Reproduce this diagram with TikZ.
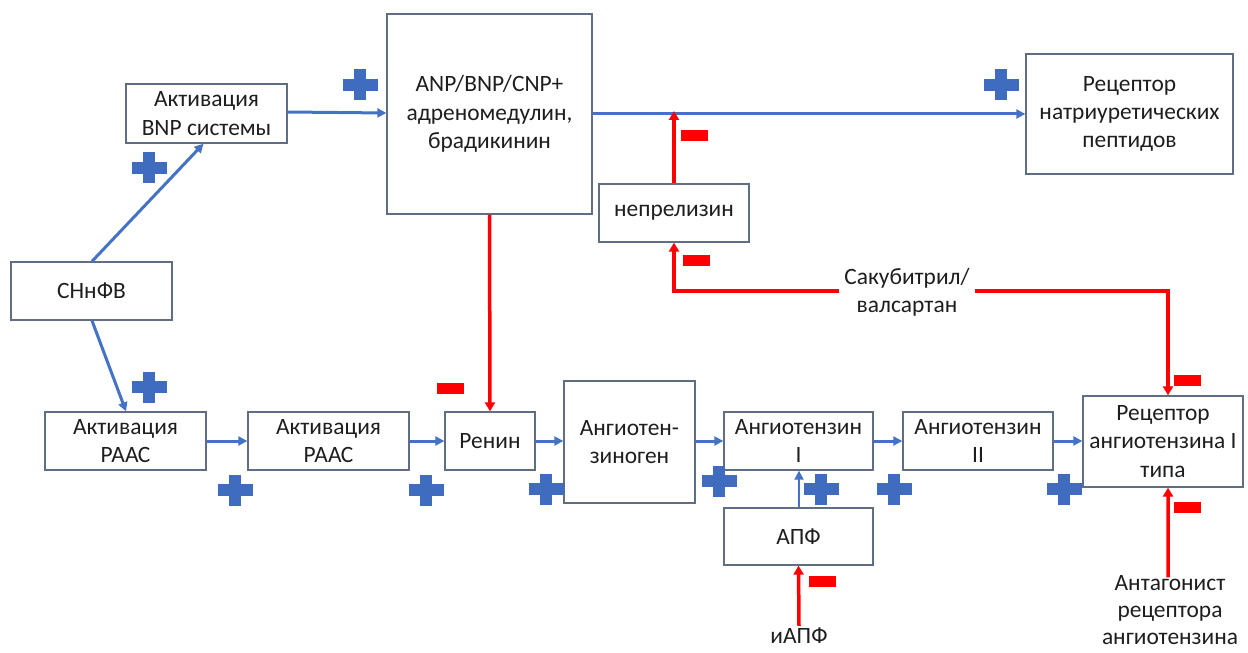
\documentclass[tikz,border=0pt]{standalone}
\usepackage{fontspec}
\setmainfont{Carlito}
\usetikzlibrary{arrows.meta,calc}
\definecolor{bl}{RGB}{68,114,196}
\definecolor{pl}{RGB}{63,108,190}
\definecolor{bx}{RGB}{95,110,130}
\definecolor{rd}{RGB}{255,0,0}
\definecolor{tx}{RGB}{30,30,30}
\begin{document}
\begin{tikzpicture}[x=1bp,y=-1bp,
  box/.style={draw=bx, line width=1.3bp, inner sep=0pt, align=center, text=tx,
    font=\fontsize{23.5}{28.5}\selectfont},
  txt/.style={inner sep=5bp, align=center, text=tx, font=\fontsize{23.5}{28.5}\selectfont},
  posarr/.style={draw=bl, line width=3bp, -{Triangle[length=9bp,width=9bp]}},
  negarr/.style={draw=rd, line width=3.5bp, -{Triangle[length=9bp,width=10bp]}},
  pplus/.pic={\fill[pl] (-17.5,-6) rectangle (17.5,6); \fill[pl] (-6,-15.5) rectangle (6,15.5);},
  pminus/.pic={\fill[rd] (-13.5,-5.5) rectangle (13.5,5.5);}
]
\useasboundingbox (0,0) rectangle (1248,653);

% boxes
\node[box, minimum width=161bp, minimum height=59bp] (bnp) at (206.5,113.5) {Активация\\BNP системы};
\node[box, minimum width=161bp, minimum height=58bp] (chf) at (91.5,291) {СНнФВ};
\node[box, minimum width=205bp, minimum height=200bp] (anp) at (489.5,114) {ANP/BNP/CNP+\\адреномедулин,\\брадикинин};
\node[box, minimum width=150bp, minimum height=58bp] (nep) at (674,213) {непрелизин};
\node[box, minimum width=207bp, minimum height=120bp] (rnp) at (1129.5,114) {Рецептор\\натриуретических\\пептидов};
\node[box, minimum width=161bp, minimum height=58bp] (raasa) at (125.5,441) {Активация\\РААС};
\node[box, minimum width=161bp, minimum height=58bp] (raasb) at (328.5,441) {Активация\\РААС};
\node[box, minimum width=90bp, minimum height=58bp] (ren) at (490,441) {Ренин};
\node[box, minimum width=131bp, minimum height=122bp] (agt) at (629.5,442) {Ангиотен-\\зиноген};
\node[box, minimum width=149bp, minimum height=58bp] (angi) at (798.5,441) {Ангиотензин\\I};
\node[box, minimum width=149bp, minimum height=57bp] (apf) at (798.5,536.5) {АПФ};
\node[box, minimum width=150bp, minimum height=58bp] (angii) at (978,441) {Ангиотензин\\II};
\node[box, minimum width=160bp, minimum height=91bp] (atr) at (1163,441.5) {Рецептор\\ангиотензина I\\типа};

% free texts
\node[txt] (sac) at (907,292) {Сакубитрил/\\валсартан};
\node[txt, inner sep=2bp] (iapf) at (799,636) {иАПФ};
\node[txt, inner sep=1bp, font=\fontsize{23.5}{27}\selectfont] (ant) at (1170,610) {Антагонист\\рецептора\\ангиотензина};

% blue connectors
\draw[posarr] ([xshift=0.5bp]chf.north) -- ([xshift=-3bp]bnp.south);
\draw[posarr] ([xshift=0.5bp]chf.south) -- ([xshift=0.5bp]raasa.north);
\draw[posarr] ([yshift=1.5bp]bnp.east) -- ([yshift=1bp]anp.west);
\draw[posarr] (anp.east) -- (rnp.west);
\draw[posarr] (raasa.east) -- (raasb.west);
\draw[posarr] (raasb.east) -- (ren.west);
\draw[posarr] (ren.east) -- (ren.east -| agt.west);
\draw[posarr] (angi.west -| agt.east) -- (angi.west);
\draw[posarr] (angi.east) -- (angii.west);
\draw[posarr] (angii.east) -- (angii.east -| atr.west);
\draw[posarr, line width=2bp] ([xshift=0.5bp]apf.north) -- ([xshift=0.5bp]angi.south);

% red connectors
\draw[negarr] (anp.south) -- (ren.north);
\draw[negarr] (nep.north) -- ([yshift=3bp]nep.north |- anp.east);
\draw[negarr] (sac.west |- 0,291) -| (nep.south);
\draw[negarr] (sac.east |- 0,291) -| ([xshift=5bp]atr.north);
\draw[negarr] (iapf.north) -- (apf.south);
\draw[negarr] ([xshift=-2bp,yshift=-3bp]ant.north) -- ([xshift=5bp]atr.south);

% plus signs
\pic at (360,85) {pplus};
\pic at (149,168) {pplus};
\pic at (1001,85) {pplus};
\pic at (149,387) {pplus};
\pic at (235,490) {pplus};
\pic at (426,490) {pplus};
\pic at (546,489) {pplus};
\pic at (719,481) {pplus};
\pic at (821,489) {pplus};
\pic at (894,489) {pplus};
\pic at (1064,489) {pplus};

% minus signs
\pic at (694,136) {pminus};
\pic at (696,260) {pminus};
\pic at (450,388) {pminus};
\pic at (822,581) {pminus};
\pic at (1187,380) {pminus};
\pic at (1187,507) {pminus};
\end{tikzpicture}
\end{document}
